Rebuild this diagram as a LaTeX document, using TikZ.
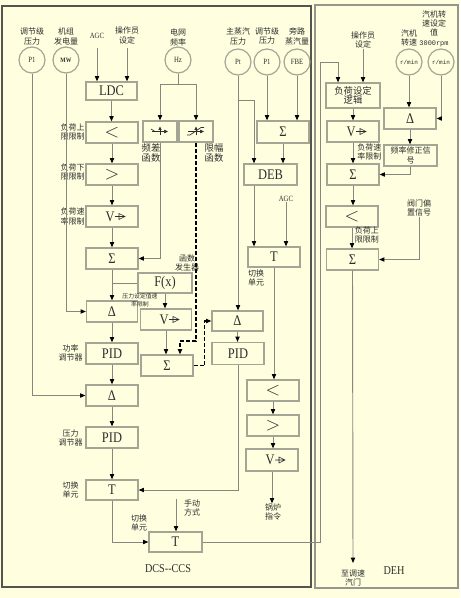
\documentclass[tikz,border=0pt]{standalone}
\usepackage{fontspec}
\setmainfont{Liberation Serif}[FakeStretch=0.85]
\newfontfamily\cjk{Noto Sans CJK SC}
\newfontfamily\monof{Liberation Mono}
\usetikzlibrary{arrows.meta,calc}
\definecolor{bgc}{RGB}{255,255,224}
\definecolor{boxc}{RGB}{165,165,150}
\definecolor{linec}{RGB}{135,135,128}
\definecolor{txtc}{RGB}{45,45,45}
\definecolor{framec}{RGB}{85,85,80}
\definecolor{frametwo}{RGB}{150,150,140}
\tikzset{
  blk/.style={draw=boxc, line width=0.9pt, minimum width=39pt, minimum height=15.75pt,
    inner sep=0pt, align=center, text=txtc, font=\fontsize{11}{11}\selectfont},
  circ/.style={circle, draw=boxc, line width=0.9pt, minimum size=19.5pt, inner sep=0pt,
    text=txtc, font=\fontsize{6}{6}\selectfont},
  lab/.style={align=center, inner sep=0pt, text=txtc, font=\cjk\fontsize{6}{7}\selectfont},
  labl/.style={align=center, inner sep=0pt, text=txtc, font=\cjk\fontsize{7}{7.5}\selectfont},
  labt/.style={align=center, inner sep=0pt, text=txtc, font=\cjk\fontsize{4.4}{5.8}\selectfont},
  txt/.style={inner sep=0pt, text=txtc, font=\fontsize{6}{6}\selectfont},
  conn/.style={draw=linec, line width=0.7pt},
  arr/.style={conn, -{Triangle[length=4pt,width=3.2pt,color=black]}},
  dsh/.style={draw=black, line width=0.9pt, dash pattern=on 3pt off 1.5pt},
  darr/.style={dsh, -{Triangle[length=4pt,width=3.2pt]}},
  vtri/.pic={\draw[txtc, line width=0.45pt] (0,0) -- (10,0) (4,-3) -- (10,0) -- (4,3) -- cycle;},
  ltsym/.style={font=\fontsize{15}{15}\selectfont}
}
\begin{document}
\begin{tikzpicture}[x=0.75pt,y=-0.75pt]
\fill[bgc] (0,0) rectangle (460,598);
\useasboundingbox (0,0) rectangle (460,598);
% frames
\draw[framec, line width=1.1pt] (2,6) rectangle (311,587);
\draw[frametwo, line width=0.8pt] (315,5) rectangle (458,588);

% ---------- circles ----------
\node[circ] (cp1) at (32,60) {P1};
\node[circ, font=\bfseries\fontsize{5}{5}\selectfont] (cmw) at (66,60) {MW};
\node[circ] (chz) at (178,60) {Hz};
\node[circ] (cpt) at (238,62) {Pt};
\node[circ] (cp1b) at (267,62) {P1};
\node[circ] (cfbe) at (297,62) {FBE};
\node[circ, font=\monof\fontsize{4.5}{4.5}\selectfont] (crm1) at (409,62) {r/min};
\node[circ, font=\monof\fontsize{4.5}{4.5}\selectfont] (crm2) at (441,62) {r/min};

% ---------- top labels ----------
\node[lab] (lp1) at (32,36.5) {调节级\\压力};
\node[lab] (lmw) at (66,36.5) {机组\\发电量};
\node[txt] (agc1) at (97,36) {AGC};
\node[lab] (op1) at (127,35.5) {操作员\\设定};
\node[lab] (lhz) at (178,37.5) {电网\\频率};
\node[lab] (lpt) at (238,36.5) {主蒸汽\\压力};
\node[lab] (lp1b) at (267,36) {调节级\\压力};
\node[lab] (lfbe) at (297,36.5) {旁路\\蒸汽量};
\node[lab] (op2) at (363,40) {操作员\\设定};
\node[lab] (lrm1) at (409,38) {汽机\\转速};
\node[lab] (lrm2) at (434,28.5) {汽机转\\速设定\\值\\{\monof\fontsize{5.2}{5.2}\selectfont 3000rpm}};

% ---------- left column ----------
\node[blk, minimum width=38.25pt, minimum height=13.5pt] (ldc) at (111.5,91) {LDC};
\node[blk, ltsym] (lt1) at (112,132.5) {$<$};
\node[blk, ltsym] (gt1) at (112,174.5) {$>$};
\node[blk] (v1) at (112,216.5) {V\hspace{3pt}};
\pic at ($(v1.center)+(3,0)$) {vtri};
\node[blk] (s1) at (112,258.5) {Σ};
\node[blk, minimum width=38.25pt] (d1) at (112,311.5) {Δ};
\node[blk] (pid1) at (112,353.5) {PID};
\node[blk] (d3) at (112,395.5) {Δ};
\node[blk] (pid2) at (112,437.5) {PID};
\node[blk, minimum height=15pt] (t1) at (112,490) {T};
\node[blk, minimum width=39.75pt, minimum height=15pt] (t2) at (175.5,542) {T};

\node[lab, anchor=east] (llt1) at (85,132) {负荷上\\限限制};
\node[lab, anchor=east] (lgt1) at (85,172) {负荷下\\限限制};
\node[lab, anchor=east] (lv1) at (85,216.5) {负荷速\\率限制};
\node[lab, anchor=east] (lpid1) at (83,353) {功率\\调节器};
\node[lab, anchor=east] (lpid2) at (83,438) {压力\\调节器};
\node[lab, anchor=east] (lt1lab) at (79,490) {切换\\单元};
\node[lab] (lt2lab) at (139,523) {切换\\单元};
\node[lab] (lman) at (192,508) {手动\\方式};
\node[inner sep=0pt, text=txtc, font=\fontsize{9}{9}\selectfont] (dcs) at (168,569) {DCS{-}{-}CCS};

% ---------- middle column ----------
\node[blk, minimum width=25.5pt] (fdiff) at (160,131.5) {};
\node[blk, minimum width=25.5pt] (flim) at (196,131.5) {};
\begin{scope}[shift={(fdiff.center)}, line width=0.5pt]
  \draw[txtc, -{Triangle[length=3pt,width=2.6pt]}] (-8,0) -- (8,0);
  \draw[txtc, -{Triangle[length=2.5pt,width=2.2pt]}] (0,4) -- (0,-5);
  \draw[txtc] (-9,-2.5) -- (-5,0);
\end{scope}
\begin{scope}[shift={(flim.center)}, line width=0.5pt]
  \draw[txtc, -{Triangle[length=3pt,width=2.6pt]}] (-8,0) -- (8,0);
  \draw[txtc, -{Triangle[length=2.5pt,width=2.2pt]}] (0,4) -- (0,-5);
  \draw[txtc] (-9,3.5) -- (-6,3.5) -- (5,-4) -- (8,-4);
\end{scope}
\node[labl] (lfd) at (151,153) {频差\\函数};
\node[labl] (lfl) at (214,153) {限幅\\函数};
\node[blk, minimum width=40.5pt, minimum height=15pt] (fx) at (165,283) {F(x)};
\node[lab] (lfx) at (187,263) {函数\\发生器};
\node[blk, minimum width=38.25pt] (v2) at (166,319.5) {V\hspace{3pt}};
\pic at ($(v2.center)+(3,0)$) {vtri};
\node[labt] (lv2) at (140,300) {压力设定值速\\率限制};
\node[blk] (s2) at (167,365.5) {Σ};

\node[blk, minimum width=38.25pt, minimum height=15pt] (d2) at (237.5,321) {Δ};
\node[blk, minimum height=16.5pt] (pid3) at (238,353.5) {PID};
\node[blk, minimum height=16.5pt] (sg3) at (283,132) {Σ};
\node[blk, minimum width=39.75pt] (deb) at (270.5,174.5) {DEB};
\node[txt] (agc2) at (286,199) {AGC};
\node[blk, minimum height=15pt] (t3) at (274,257) {T};
\node[lab] (lt3lab) at (256,278) {切换\\单元};
\node[blk, ltsym] (lt2) at (273,390.5) {$<$};
\node[blk, ltsym] (gt2) at (273,425.5) {$>$};
\node[blk, minimum height=16.5pt] (v3) at (272,460) {V\hspace{3pt}};
\pic at ($(v3.center)+(3,0)$) {vtri};
\node[lab] (boiler) at (273,512) {锅炉\\指令};

% ---------- DEH column ----------
\node[blk, minimum width=40.5pt, minimum height=18.75pt, font=\cjk\fontsize{7}{7}\selectfont] (logic) at (353,95.5) {负荷设定\\逻辑};
\node[blk] (v4) at (353,131.5) {V\hspace{3pt}};
\pic at ($(v4.center)+(3,0)$) {vtri};
\node[blk] (s4) at (353,174.5) {Σ};
\node[blk, ltsym] (lt3) at (352,216.5) {$<$};
\node[blk] (s5) at (352.5,259.5) {Σ};
\node[blk, minimum width=39pt] (d4) at (410,118.5) {Δ};
\node[blk, minimum width=39.75pt, font=\cjk\fontsize{6}{7.5}\selectfont] (fcor) at (410.5,155.5) {频率修正信\\号};
\node[lab, anchor=west] (lv4) at (357,152) {负荷速\\率限制};
\node[lab, anchor=west] (llt3) at (354.5,235) {负荷上\\限限制};
\node[lab] (valve) at (419,208) {阀门偏\\置信号};
\node[lab] (tov) at (353,578) {至调速\\汽门};
\node[inner sep=0pt, text=txtc, font=\fontsize{9}{9}\selectfont] (deh) at (394,571) {DEH};

% ---------- coordinates ----------
\coordinate (agcs) at (97,48);
\coordinate (op1s) at (127,48);
\coordinate (hzj) at (178,84);
\coordinate (dj) at (180,341);
\coordinate (ptj) at (238,100);
\coordinate (debl) at (254,100);
\coordinate (mst) at (176,499);
\coordinate (r1) at (320,62);
\coordinate (r2) at (338,62);
\coordinate (tvend) at (353,563);

% ---------- connectors: left ----------
\draw[arr] (agcs) -- (agcs |- ldc.north);
\draw[arr] (op1s) -- (op1s |- ldc.north);
\draw[arr] (ldc.south) -- (ldc.south |- lt1.north);
\draw[arr] (lt1.south) -- (lt1.south |- gt1.north);
\draw[arr] (gt1.south) -- (gt1.south |- v1.north);
\draw[arr] (v1.south) -- (v1.south |- s1.north);
\draw[arr] (s1.south) -- (s1.south |- d1.north);
\draw[conn] (s1.south |- fx.west) -- (fx.west);
\draw[arr] (d1.south) -- (d1.south |- pid1.north);
\draw[arr] (pid1.south) -- (pid1.south |- d3.north);
\draw[arr] (d3.south) -- (d3.south |- pid2.north);
\draw[arr] (pid2.south) -- (pid2.south |- t1.north);
\draw[arr] (cp1.south) |- (d3.west);
\draw[arr] (cmw.south) |- (d1.west);
\draw[arr] (t1.south) |- (t2.west);
\draw[arr] (mst) -- (mst |- t2.north);

% ---------- connectors: middle ----------
\draw[conn] (chz.south) -- (hzj);
\draw[arr] (hzj) -| (fdiff.north);
\draw[arr] (hzj) -| (flim.north);
\draw[arr] (fdiff.south) |- (s1.east);
\draw[darr] (flim.south) |- (dj) -- (dj |- s2.north);
\draw[arr] (fx.south) -- (fx.south |- v2.north);
\draw[arr] (v2.south) -- (v2.south |- s2.north);
\draw[darr] (s2.east) -- ++(11,0) |- (d2.west);
\draw[arr] (cpt.south) -- (cpt.south |- d2.north);
\draw[conn] (ptj) -- (debl);
\draw[arr] (debl) -- (debl |- deb.north);
\draw[arr] (cp1b.south) -- (cp1b.south |- sg3.north);
\draw[arr] (cfbe.south) -- (cfbe.south |- sg3.north);
\draw[arr] (sg3.south) -- (sg3.south |- deb.north);
\draw[arr] (debl |- deb.south) -- (debl |- t3.north);
\draw[arr] (agc2.south) -- (agc2.south |- t3.north);
\draw[arr] (d2.south) -- (d2.south |- pid3.north);
\draw[arr] (pid3.south) |- (t1.east);
\draw[arr] (t3.south) -- (t3.south |- lt2.north);
\draw[arr] (lt2.south) -- (lt2.south |- gt2.north);
\draw[arr] (gt2.south) -- (gt2.south |- v3.north);
\draw[arr] (v3.south) -- (v3.south |- boiler.north);

% ---------- connectors: DEH ----------
\draw[arr] (t2.east) -| (r1) -- (r2) -- (r2 |- logic.north);
\draw[arr] (op2.south) -- (op2.south |- logic.north);
\draw[arr] (logic.south) -- (logic.south |- v4.north);
\draw[arr] (v4.south) -- (v4.south |- s4.north);
\draw[arr] (s4.south) -- (s4.south |- lt3.north);
\draw[arr] (lt3.south) -- (lt3.south |- s5.north);
\draw[arr] (crm1.south) -- (crm1.south |- d4.north);
\draw[arr] (crm2.south) |- (d4.east);
\draw[arr] (d4.south) -- (d4.south |- fcor.north);
\draw[arr] (fcor.south) |- (s4.east);
\draw[arr] (valve.south) |- (s5.east);
\draw[arr] (s5.south) -- (tvend);
\end{tikzpicture}
\end{document}
